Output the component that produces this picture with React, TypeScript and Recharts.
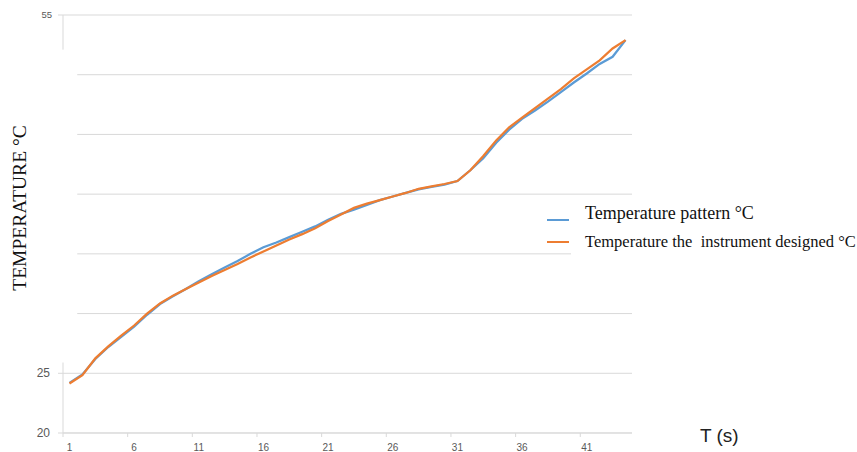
import { LineChart, Line, XAxis, YAxis, CartesianGrid, ReferenceLine } from 'recharts';

const seconds = [
  1, 2, 3, 4, 5, 6, 7, 8, 9, 10, 11, 12, 13, 14, 15, 16, 17, 18, 19, 20, 21, 22,
  23, 24, 25, 26, 27, 28, 29, 30, 31, 32, 33, 34, 35, 36, 37, 38, 39, 40, 41, 42, 43, 44,
];
const patternTemp = [
  24.2, 24.9, 26.2, 27.2, 28.05, 28.9, 29.9, 30.8, 31.45, 32.05, 32.7, 33.3, 33.85, 34.4, 35.0,
  35.55, 35.95, 36.4, 36.85, 37.3, 37.85, 38.35, 38.7, 39.1, 39.5, 39.8, 40.1, 40.4, 40.6, 40.8,
  41.1, 42.0, 43.0, 44.3, 45.4, 46.3, 47.0, 47.75, 48.55, 49.35, 50.1, 50.9, 51.5, 52.9,
];
const instrumentTemp = [
  24.15, 24.85, 26.25, 27.25, 28.15, 29.0, 30.0, 30.85, 31.5, 32.05, 32.6, 33.15, 33.65, 34.15, 34.7,
  35.2, 35.7, 36.2, 36.65, 37.15, 37.75, 38.3, 38.85, 39.2, 39.5, 39.8, 40.1, 40.45, 40.65, 40.85,
  41.1, 42.0, 43.2, 44.5, 45.6, 46.4, 47.2, 48.0, 48.8, 49.7, 50.45, 51.2, 52.2, 52.9,
];

// labels sit on the categories, tick marks sit between them (excel style)
const xLabelTicks = [1, 6, 11, 16, 21, 26, 31, 36, 41];
const xMarkTicks = [0.5, 5.5, 10.5, 15.5, 20.5, 25.5, 30.5, 35.5, 40.5];
const yLabelTicks = [20, 25, 55];
const yInnerGrid = [30, 35, 40, 45, 50];

const series = [
  { key: 'pattern', name: 'Temperature pattern °C', color: '#5B9BD5' },
  { key: 'instrument', name: 'Temperature the  instrument designed °C', color: '#ED7D31' },
];

const data = seconds.map((t, i) => ({ t, pattern: patternTemp[i], instrument: instrumentTemp[i] }));

const GRID = '#d9d9d9';
const TICK_TEXT = '#595959';
const SERIF = '"Liberation Serif", "Times New Roman", serif';
const SANS = '"Liberation Sans", Arial, sans-serif';

const XTick = ({ x, y, payload }: any) => {
  const v = payload.value;
  if (v % 1 !== 0) {
    return <line x1={x} x2={x} y1={y} y2={y + 4} stroke={GRID} />;
  }
  return (
    <text x={x} y={y + 17.5} textAnchor="middle" fontSize={10} fontFamily={SANS} fill={TICK_TEXT}>
      {v}
    </text>
  );
};

const YTick = ({ x, y, payload }: any) => {
  const top = payload.value === 55;
  return (
    <g>
      <line x1={x - 5} x2={x} y1={y} y2={y} stroke={GRID} />
      <text
        x={top ? x - 11 : x - 13}
        y={y}
        dy={top ? 3 : 4}
        textAnchor="end"
        fontSize={top ? 9.5 : 12}
        fontFamily={SANS}
        fill={TICK_TEXT}
      >
        {payload.value}
      </text>
    </g>
  );
};

const legendRows = [
  { textTop: 3.5, swatchTop: 19.5, fontSize: 18 },
  { textTop: 32.5, swatchTop: 41.5, fontSize: 16.5 },
];

function ChartLegend() {
  return (
    <div
      style={{
        position: 'absolute',
        left: 547,
        top: 199,
        width: 310,
        height: 58,
        background: 'linear-gradient(to right, rgba(255,255,255,0) 24px, #fff 24px)',
      }}
    >
      {series.map((s, i) => (
        <div key={s.key}>
          <div
            style={{
              position: 'absolute',
              left: 0,
              top: legendRows[i].swatchTop,
              width: 22,
              height: 2.5,
              background: s.color,
            }}
          />
          <div
            style={{
              position: 'absolute',
              left: 38,
              top: legendRows[i].textTop,
              fontFamily: SERIF,
              fontSize: legendRows[i].fontSize,
              color: '#111',
              whiteSpace: 'pre',
            }}
          >
            {s.name}
          </div>
        </div>
      ))}
    </div>
  );
}

export default function App() {
  return (
    <div style={{ position: 'absolute', left: 0, top: 0, width: 857, height: 452, background: '#fff' }}>
      <LineChart width={857} height={452} data={data} margin={{ top: 15, right: 225, bottom: 0, left: 0 }}>
        <CartesianGrid vertical={false} stroke={GRID} />
        <XAxis
          dataKey="t"
          type="number"
          domain={[0.5, 44.5]}
          ticks={[...xMarkTicks, ...xLabelTicks]}
          interval={0}
          height={19}
          tickSize={0}
          tickMargin={0}
          tickLine={false}
          axisLine={{ stroke: GRID }}
          tick={<XTick />}
        />
        <YAxis
          type="number"
          domain={[20, 55]}
          ticks={yLabelTicks}
          interval={0}
          width={63}
          tickSize={0}
          tickMargin={0}
          tickLine={false}
          axisLine={false}
          tick={<YTick />}
        />
        {yInnerGrid.map((v) => (
          <ReferenceLine
            key={v}
            segment={[
              { x: 1.6, y: v },
              { x: 44.5, y: v },
            ]}
            stroke={GRID}
            strokeWidth={1}
          />
        ))}
        <ReferenceLine
          segment={[
            { x: 0.5, y: 55 },
            { x: 0.5, y: 52.1 },
          ]}
          stroke={GRID}
        />
        <ReferenceLine
          segment={[
            { x: 0.5, y: 25.9 },
            { x: 0.5, y: 20 },
          ]}
          stroke={GRID}
        />
        {series.map((s) => (
          <Line
            key={s.key}
            type="linear"
            dataKey={s.key}
            name={s.name}
            stroke={s.color}
            strokeWidth={2.25}
            dot={false}
            isAnimationActive={false}
          />
        ))}
      </LineChart>
      <ChartLegend />
      <div
        style={{
          position: 'absolute',
          left: 20,
          top: 208,
          transform: 'translate(-50%, -50%) rotate(-90deg)',
          whiteSpace: 'nowrap',
          fontFamily: SERIF,
          fontSize: 19.5,
          color: '#111',
        }}
      >
        TEMPERATURE °C
      </div>
      <div
        style={{
          position: 'absolute',
          left: 700,
          top: 425,
          whiteSpace: 'nowrap',
          fontFamily: SANS,
          fontSize: 19,
          color: '#222',
        }}
      >
        T (s)
      </div>
    </div>
  );
}
